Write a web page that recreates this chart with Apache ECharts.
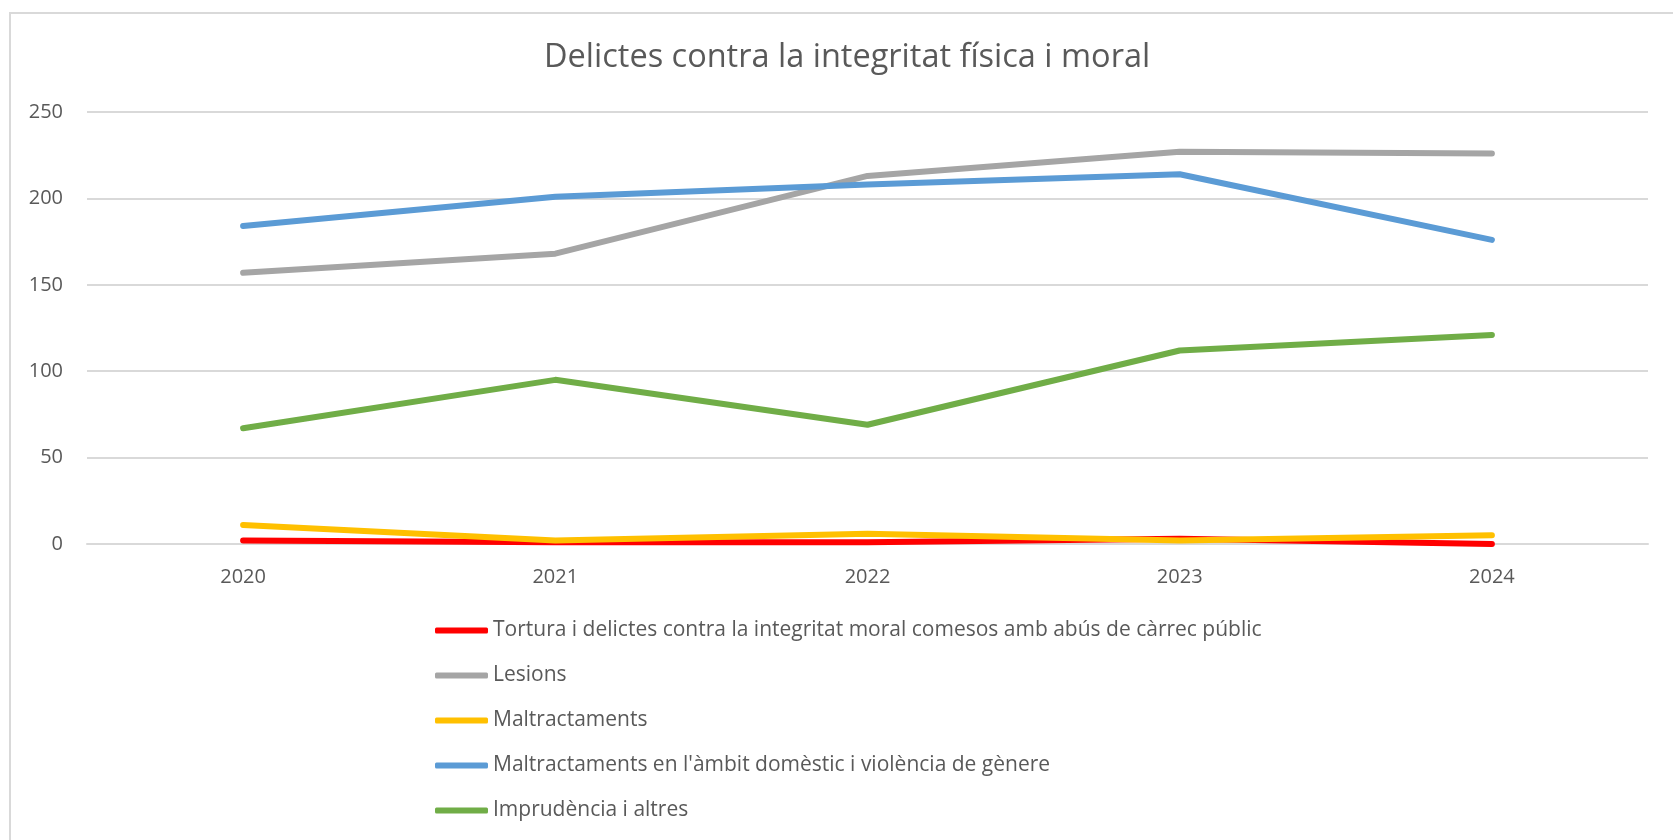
<!DOCTYPE html>
<html>
<head>
<meta charset="utf-8">
<script src="https://cdn.jsdelivr.net/npm/echarts@6/dist/echarts.min.js"></script>
<style>
  html, body { margin: 0; padding: 0; background: #fff; }
  #chart { width: 1673px; height: 840px; }
</style>
</head>
<body>
<div id="chart"></div>
<script>
const years = ["2020", "2021", "2022", "2023", "2024"];

const seriesNames = [
  "Tortura i delictes contra la integritat moral comesos amb abús de càrrec públic",
  "Lesions",
  "Maltractaments",
  "Maltractaments en l'àmbit domèstic i violència de gènere",
  "Imprudència i altres"
];

const tortura = [2, 1, 1, 3, 0];
const lesions = [157, 168, 213, 227, 226];
const maltractaments = [11, 2, 6, 2, 5];
const domestic = [184, 201, 208, 214, 176];
const imprudencia = [67, 95, 69, 112, 121];

const seriesValues = [tortura, lesions, maltractaments, domestic, imprudencia];
const colors = ["#FF0000", "#A5A5A5", "#FFC000", "#5B9BD5", "#70AD47"];

const font = "'Open Sans', sans-serif";

const chart = echarts.init(document.getElementById("chart"));

const option = {
  animation: false,
  color: colors,
  textStyle: { fontFamily: font },
  title: {
    text: "Delictes contra la integritat física i moral",
    left: 539,
    top: 36,
    textStyle: { fontFamily: font, fontSize: 32.5, fontWeight: "normal", color: "#595959" }
  },
  graphic: [{
    type: "rect",
    shape: { x: 10, y: 13, width: 1700, height: 900 },
    style: { fill: "none", stroke: "#d9d9d9", lineWidth: 2 },
    silent: true
  }],
  grid: { left: 87, right: 25, top: 112, bottom: 296 },
  legend: {
    orient: "vertical",
    left: 435,
    top: 620,
    padding: 0,
    itemWidth: 53,
    itemHeight: 6,
    itemGap: 24,
    icon: "roundRect",
    textStyle: { fontFamily: font, fontSize: 21, color: "#595959", lineHeight: 21 }
  },
  xAxis: {
    type: "category",
    data: years,
    boundaryGap: true,
    axisLine: { lineStyle: { color: "#d9d9d9", width: 2 } },
    axisTick: { show: false },
    axisLabel: { fontFamily: font, fontSize: 20, color: "#595959", margin: 23 }
  },
  yAxis: {
    type: "value",
    min: 0,
    max: 250,
    interval: 50,
    axisLine: { show: false },
    axisTick: { show: false },
    splitLine: { lineStyle: { color: "#d9d9d9", width: 2 } },
    axisLabel: { fontFamily: font, fontSize: 20, color: "#595959", margin: 24 }
  },
  series: seriesNames.map((name, i) => ({
    name: name,
    type: "line",
    data: seriesValues[i],
    symbol: "none",
    lineStyle: { width: 6, cap: "round", join: "round", color: colors[i] },
    itemStyle: { color: colors[i] }
  }))
};

chart.setOption(option);
</script>
</body>
</html>
